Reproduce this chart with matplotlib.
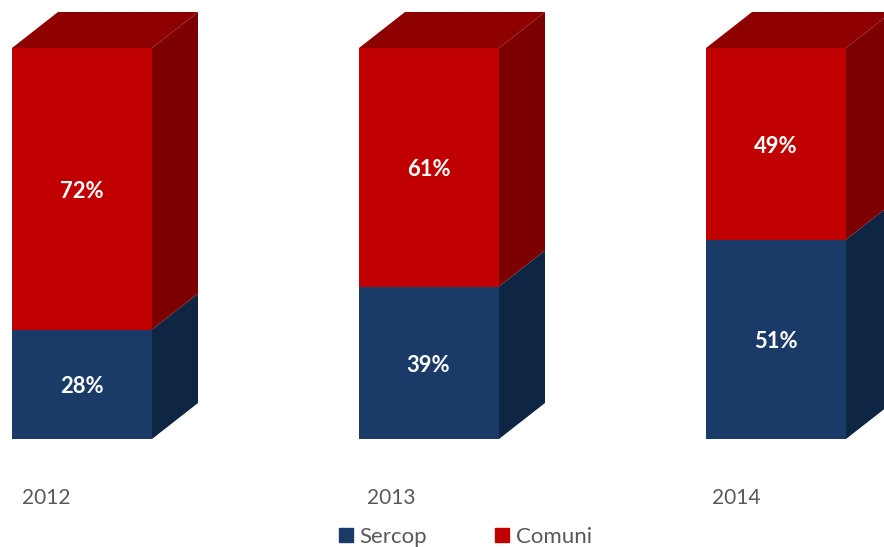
import matplotlib
matplotlib.use("Agg")
import matplotlib.pyplot as plt
from matplotlib.patches import Patch

plt.rcParams["font.family"] = ["Lato", "DejaVu Sans"]

years = ["2012", "2013", "2014"]
sercop = [28, 39, 51]
comuni = [72, 61, 49]

W, H = 884, 547
BAR_W = 140 / 347          # bar width in category units
DX = 46 / 347              # receding depth, horizontal
DY = 36 / 3.91             # receding depth, vertical

RED_FRONT, RED_SIDE, RED_TOP = "#C00000", "#7C0000", "#8E0000"
BLUE_FRONT, BLUE_SIDE = "#1A3A68", "#0F2544"
GREY = "#595959"

fig = plt.figure(figsize=(W / 100, H / 100), dpi=100, facecolor="white")
ax = fig.add_axes([0, 0, 1, 1])
ax.set_xlim(-82 / 347, (W - 82) / 347)
ax.set_ylim((439 - H) / 3.91, 439 / 3.91)
ax.axis("off")


def side_face(x, low, high, color):
    xr = x + BAR_W / 2
    ax.fill([xr, xr + DX, xr + DX, xr],
            [low, low + DY, high + DY, high],
            color=color, lw=0, zorder=2)


def value_label(x, y, value):
    ax.annotate(f"{value}%", (x, y), xytext=(-0.5, -2.5), textcoords="offset pixels",
                color="white", fontweight="bold", fontsize=15.8,
                ha="center", va="center", zorder=4)


for i, (year, s, c) in enumerate(zip(years, sercop, comuni)):
    ax.bar(i, s, BAR_W, color=BLUE_FRONT, zorder=3)
    ax.bar(i, c, BAR_W, bottom=s, color=RED_FRONT, zorder=3)

    side_face(i, 0, s, BLUE_SIDE)
    side_face(i, s, s + c, RED_SIDE)

    # top face of the box
    xl, xr, top = i - BAR_W / 2, i + BAR_W / 2, s + c
    ax.fill([xl, xr, xr + DX, xl + DX], [top, top, top + DY, top + DY],
            color=RED_TOP, lw=0, zorder=2)

    value_label(i, s / 2, s)
    value_label(i, s + c / 2, c)

    # year captions sit left of each bar's centre
    ax.annotate(year, (i, 0), xytext=(-35.5 - i * 2.0, -59), textcoords="offset pixels",
                color=GREY, fontsize=15, ha="center", va="center",
                annotation_clip=False)

handles = [Patch(color=BLUE_FRONT, label="Sercop"), Patch(color=RED_FRONT, label="Comuni")]
fig.legend(handles=handles, ncol=2, frameon=False, fontsize=16, labelcolor=GREY,
           loc="center", bbox_to_anchor=(465.5 / W, 1 - 537 / H),
           handlelength=0.62, handleheight=0.62, handletextpad=0.3,
           columnspacing=3.05, borderpad=0)

fig.savefig("out.png", dpi=100)
